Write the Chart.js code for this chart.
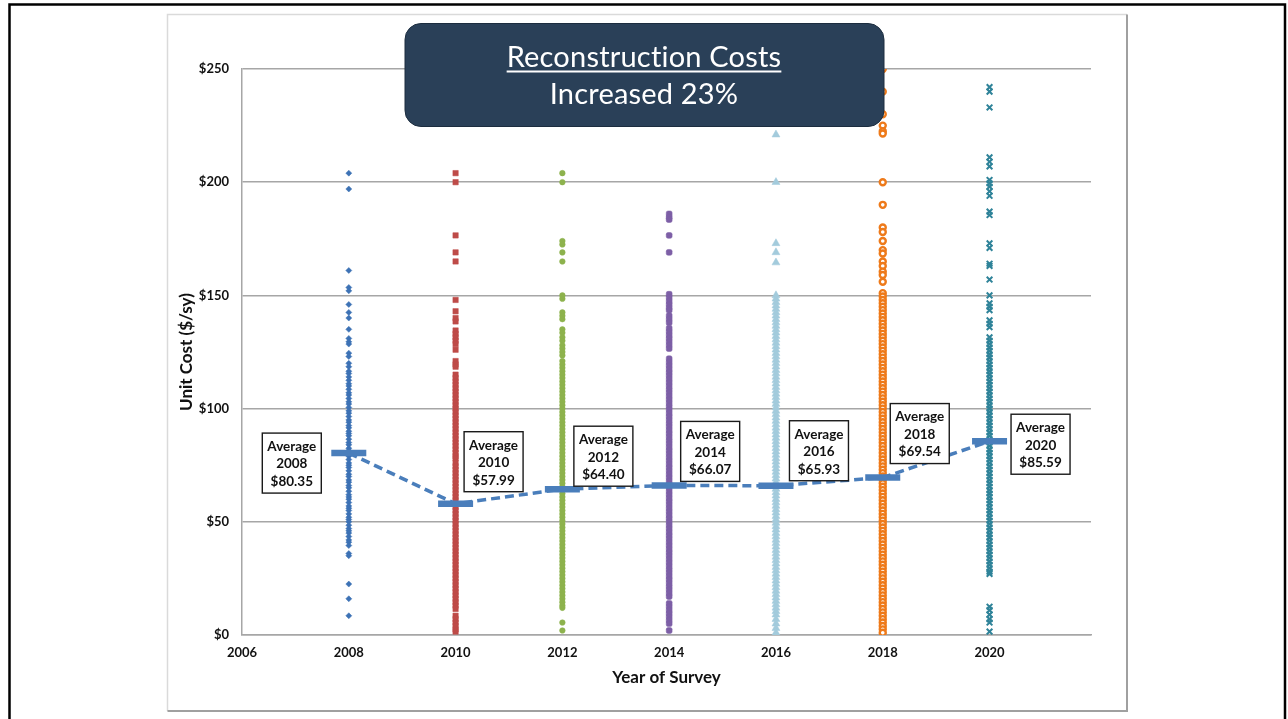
<!DOCTYPE html>
<html lang="en">
<head>
<meta charset="UTF-8">
<title>Reconstruction Costs</title>
<script src="https://cdn.jsdelivr.net/npm/chart.js@4.4.1/dist/chart.umd.min.js"></script>
<style>
  html, body { margin: 0; padding: 0; background: #fff; }
  #wrap { width: 1288px; height: 719px; }
</style>
</head>
<body>
<div id="wrap"><canvas id="chart" width="1288" height="719"></canvas></div>
<script>
// --- data ---
const years = [2008, 2010, 2012, 2014, 2016, 2018, 2020];
const averages = [80.35, 57.99, 64.40, 66.07, 65.93, 69.54, 85.59];
const xTicks = [2006, 2008, 2010, 2012, 2014, 2016, 2018, 2020];
const yTicks = [0, 50, 100, 150, 200, 250];

const cost2008 = [204, 197, 161, 153.5, 152, 146, 142.5, 140, 135, 131, 129.5, 128.5, 124.5, 123, 120, 118.5,
  116.5, 115.5, 114, 112.5, 111, 110, 108.5, 107, 106, 104.5, 103, 102, 100.5, 99, 98, 96.5, 95, 94, 92.5, 91.5,
  90, 89, 88, 86.5, 85, 84, 82.5, 81.5, 80, 79, 77.5, 76, 75, 74, 72.5, 71, 70, 68.5, 67.5, 66, 65, 63.5, 62, 61,
  60, 58.5, 57, 56, 55, 53.5, 52, 51, 50, 48.5, 47, 46, 45, 43.5, 42, 41, 39.5, 36, 35, 22.5, 16, 8.5];
const cost2010 = [204, 200, 176.5, 169, 165, 148, 143, 140, 138.5, 134.5, 133, 131.5, 130, 128.5, 126, 121, 119.5,
  118.5, 115, 113.5, 112, 110.5, 109, 107.5, 106, 104.5, 103, 101.5, 100, 98.5, 97, 95.5, 94, 92.5, 91, 89.5, 88,
  86.5, 85, 83.5, 82, 80.5, 79, 78, 76, 74.5, 73, 71.5, 70, 68.5, 67, 65.5, 64, 62.5, 61, 59.5, 58, 56.5, 55, 53.5,
  52, 50.5, 49, 47.5, 46, 44.5, 43, 41.5, 40, 38.5, 37, 35.5, 34, 32.5, 31, 29.5, 28, 26.5, 25, 23.5, 22, 20.5, 19,
  17.5, 16, 14.5, 13, 11.5, 8.5, 7, 5.5, 4, 2.5, 1.5];
const cost2012 = [204, 200, 174, 172.5, 169, 165, 150, 148.5, 142.5, 141, 139.5, 135, 133.5, 131.5, 130, 128, 126.5,
  125, 123.5, 121, 119.5, 118, 116.5, 115, 113.5, 112, 110.5, 109, 107.5, 106, 104.5, 103, 101.5, 100, 98.5, 97,
  95.5, 94, 92.5, 91, 89.5, 88, 86.5, 85, 83.5, 82, 80.5, 79, 77.5, 76, 74.5, 73, 71.5, 70, 68.5, 67, 65.5, 64,
  62.5, 61, 59.5, 58, 56.5, 55, 53.5, 52, 50.5, 49, 47.5, 46, 44.5, 43, 41.5, 40, 38.5, 37, 35.5, 34, 32.5, 31,
  29.5, 28, 26.5, 25, 23.5, 22, 20.5, 19, 17.5, 16, 14.5, 13, 12, 5.5, 2];
const cost2014 = [186, 184.5, 183.5, 176.5, 169, 150.5, 149, 147.5, 146, 144.5, 143.5, 141, 139.5, 138, 135.5, 134,
  132.5, 131, 129.5, 128, 126.5, 122, 120.5, 119, 117.5, 116, 114.5, 113, 111.5, 110, 108.5, 107, 105.5, 104, 102.5,
  101, 99.5, 98, 96.5, 95, 93.5, 92, 90.5, 89, 87.5, 86, 84.5, 83, 81.5, 80, 78.5, 77, 75.5, 74, 72.5, 71, 69.5, 68,
  66.5, 65, 63.5, 62, 60.5, 59, 57.5, 56, 54.5, 53, 51.5, 50, 48.5, 47, 45.5, 44, 42.5, 41, 39.5, 38, 36.5, 35,
  33.5, 32, 30.5, 29, 27.5, 26, 24.5, 23, 21.5, 20, 18.5, 17, 14, 12.5, 11, 9.5, 8, 6.5, 5, 2];
const cost2016 = [221, 200, 173, 169, 164.5, 150, 148.5, 147, 145.5, 144, 142.5, 141, 139.5, 138, 136.5, 135, 133.5,
  132, 130.5, 129, 127.5, 126, 124.5, 123, 121.5, 120, 118.5, 117, 115.5, 114, 112.5, 111, 109.5, 108, 106.5, 105,
  103.5, 102, 100.5, 99, 97.5, 96, 94.5, 93, 91.5, 90, 88.5, 87, 85.5, 84, 82.5, 81, 79.5, 78, 76.5, 75, 73.5, 72,
  70.5, 69, 67.5, 66, 64.5, 63, 61.5, 60, 58.5, 57, 55.5, 54, 52.5, 51, 49.5, 48, 46.5, 45, 43.5, 42, 40.5, 39,
  37.5, 36, 34.5, 33, 31.5, 30, 28.5, 27, 25.5, 24, 22.5, 21, 19.5, 18, 16.5, 15, 13.5, 12, 10.5, 9, 7, 5, 3, 1];
const cost2018 = [250, 240, 230, 225, 222.5, 221.5, 200, 190, 180, 178, 174, 170, 168.5, 165, 163, 160.5, 159, 156,
  151, 149.5, 148, 146.5, 145, 143.5, 142, 140.5, 139, 137.5, 136, 134.5, 133, 131.5, 130, 128.5, 127, 125.5, 124,
  122.5, 121, 119.5, 118, 116.5, 115, 113.5, 112, 110.5, 109, 107.5, 106, 104.5, 103, 101.5, 100, 98.5, 97, 95.5,
  94, 92.5, 91, 89.5, 88, 86.5, 85, 83.5, 82, 80.5, 79, 77.5, 76, 74.5, 73, 71.5, 70, 68.5, 67, 65.5, 64, 62.5, 61,
  59.5, 58, 56.5, 55, 53.5, 52, 50.5, 49, 47.5, 46, 44.5, 43, 41.5, 40, 38.5, 37, 35.5, 34, 32.5, 31, 29.5, 28,
  26.5, 25, 23.5, 22, 20.5, 19, 17.5, 16, 14.5, 13, 11.5, 10, 8.5, 7, 5.5, 4, 2.5, 1];
const cost2020 = [242, 240, 233, 211, 209, 207, 201, 199.5, 198, 196, 194, 187, 185.5, 173, 171, 164, 163, 157, 150,
  146.5, 145, 143.5, 139, 137.5, 136, 131.5, 130, 128.5, 127, 125.5, 124, 122.5, 121, 119.5, 118, 116.5, 115, 113.5,
  112, 110.5, 109, 107.5, 106, 104.5, 103, 101.5, 100, 98.5, 97, 95.5, 94, 92.5, 91, 89.5, 88, 86.5, 85, 83.5, 82,
  80.5, 79, 77.5, 76, 74.5, 73, 71.5, 70, 68.5, 67, 65.5, 64, 62.5, 61, 59.5, 58, 56.5, 55, 53.5, 52, 50.5, 49,
  47.5, 46, 44.5, 43, 41.5, 40, 38.5, 37, 35.5, 34, 32.5, 31, 29.5, 28, 27, 12.5, 11, 9, 7, 5.5, 1.5];

const costs = [cost2008, cost2010, cost2012, cost2014, cost2016, cost2018, cost2020];

// --- styles ---
const seriesStyle = [
  { color: '#3d72b5', style: 'rectRot', r: 3, bw: 0.5 },
  { color: '#be4b48', style: 'rect', r: 3.8, bw: 0.5 },
  { color: '#8db24d', style: 'circle', r: 2.8, bw: 0.5 },
  { color: '#7d5fa6', style: 'rectRounded', r: 3.4, bw: 0.5 },
  { color: '#a3cbdc', style: 'triangle', r: 4.6, bw: 0.5 },
  { color: '#ee7a1a', style: 'circle', r: 3, bw: 2.4, hollow: true },
  { color: '#2f8399', style: 'crossRot', r: 4, bw: 2 },
];
const avgColor = '#4a7ebb';
const labelFont = 'Lato, "Open Sans", sans-serif';
// where each "Average" box sits, relative to its average mark (px)
const avgBoxPos = [
  { dx: -57, dy: 10 }, { dx: 38, dy: -42 }, { dx: 41, dy: -33 }, { dx: 41, dy: -34 },
  { dx: 43, dy: -35 }, { dx: 37, dy: -44 }, { dx: 51, dy: 3 },
];

const datasets = [{
  type: 'line',
  data: years.map((y, i) => ({ x: y, y: averages[i] })),
  borderColor: avgColor,
  borderWidth: 3.5,
  borderDash: [9, 5],
  pointStyle: 'line',
  pointRadius: 17.5,
  pointBorderWidth: 6.5,
  pointBorderColor: avgColor,
  fill: false,
}];
costs.forEach((vals, i) => {
  const s = seriesStyle[i];
  datasets.push({
    type: 'scatter',
    data: vals.map(v => ({ x: years[i], y: v })),
    pointStyle: s.style,
    pointRadius: s.r,
    backgroundColor: s.hollow ? '#fff' : s.color,
    borderColor: s.color,
    borderWidth: s.bw,
  });
});

/* frame, title box and average labels */
const decor = {
  id: 'decor',
  beforeDraw(chart) {
    const c = chart.ctx;
    c.save();
    c.fillStyle = '#fff';
    c.fillRect(0, 0, chart.width, chart.height);
    // slide border
    c.strokeStyle = '#000';
    c.lineWidth = 2.5;
    c.beginPath();
    c.moveTo(9.5, 719); c.lineTo(9.5, 4.5); c.lineTo(1285, 4.5); c.lineTo(1285, 719);
    c.stroke();
    // chart box
    c.lineWidth = 1.5;
    c.strokeStyle = '#dadada';
    c.beginPath();
    c.moveTo(167.5, 711); c.lineTo(167.5, 14.5); c.lineTo(1127, 14.5);
    c.stroke();
    c.strokeStyle = '#a0a0a0';
    c.lineWidth = 2;
    c.beginPath();
    c.moveTo(1127, 14.5); c.lineTo(1127, 711); c.lineTo(167.5, 711);
    c.stroke();
    c.restore();
  },
  afterDraw(chart) {
    const c = chart.ctx;
    const xs = chart.scales.x, ys = chart.scales.y;
    c.save();
    // average labels
    c.textAlign = 'center';
    c.textBaseline = 'middle';
    years.forEach((yr, i) => {
      const cx = xs.getPixelForValue(yr) + avgBoxPos[i].dx;
      const cy = ys.getPixelForValue(averages[i]) + avgBoxPos[i].dy;
      const w = 59, h = 60;
      c.fillStyle = '#fff';
      c.fillRect(cx - w / 2, cy - h / 2, w, h);
      c.strokeStyle = '#1a1a1a';
      c.lineWidth = 1.4;
      c.strokeRect(cx - w / 2, cy - h / 2, w, h);
      c.fillStyle = '#111';
      c.font = 'bold 13.5px ' + labelFont;
      ['Average', String(yr), '$' + averages[i].toFixed(2)].forEach((t, k) => {
        c.fillText(t, cx, cy - 16.5 + k * 17.5);
      });
    });
    // title box
    c.fillStyle = '#2a4058';
    c.strokeStyle = '#1c2d3f';
    c.lineWidth = 1;
    c.beginPath();
    c.roundRect(405, 23.5, 479, 103, 16);
    c.fill();
    c.stroke();
    c.fillStyle = '#fff';
    c.font = '29px ' + labelFont;
    c.letterSpacing = '0.2px'; // keeps "ti" from joining
    c.textBaseline = 'alphabetic';
    const t1 = 'Reconstruction Costs';
    c.fillText(t1, 644, 66.5);
    const w1 = c.measureText(t1).width;
    c.fillRect(644 - w1 / 2, 70.5, w1, 2);
    c.fillText('Increased 23%', 644, 104);
    c.restore();
  }
};

new Chart(document.getElementById('chart'), {
  data: { datasets },
  plugins: [decor],
  options: {
    responsive: false,
    devicePixelRatio: 1,
    animation: false,
    layout: { padding: { left: 168, top: 69, right: 197, bottom: 26 } },
    plugins: { legend: { display: false }, tooltip: { enabled: false } },
    scales: {
      x: {
        type: 'linear',
        min: 2006,
        max: 2021.9,
        afterBuildTicks: s => { s.ticks = xTicks.map(v => ({ value: v })); },
        afterFit: s => { s.height = 58; },
        grid: { display: false, drawTicks: false },
        border: { display: true, color: '#a6a6a6', width: 1.5 },
        ticks: { padding: 10, color: '#111', font: { family: labelFont, weight: 'bold', size: 13 },
                 callback: v => String(v), maxRotation: 0 },
        title: { display: true, text: 'Year of Survey', color: '#111',
                 font: { family: labelFont, weight: 'bold', size: 17 }, padding: { top: 0, bottom: 5 } },
      },
      y: {
        min: 0,
        max: 250,
        afterBuildTicks: s => { s.ticks = yTicks.map(v => ({ value: v })); },
        afterFit: s => { s.width = 74; },
        grid: { color: '#a6a6a6', lineWidth: 1.5, drawTicks: false },
        border: { display: true, color: '#a6a6a6', width: 1.5 },
        ticks: { padding: 13, color: '#111', font: { family: labelFont, weight: 'bold', size: 13 },
                 callback: v => '$' + v },
        title: { display: true, text: 'Unit Cost ($/sy)', color: '#111',
                 font: { family: labelFont, weight: 'bold', size: 17 }, padding: { top: 8, bottom: 0 } },
      }
    }
  }
});
</script>
</body>
</html>
